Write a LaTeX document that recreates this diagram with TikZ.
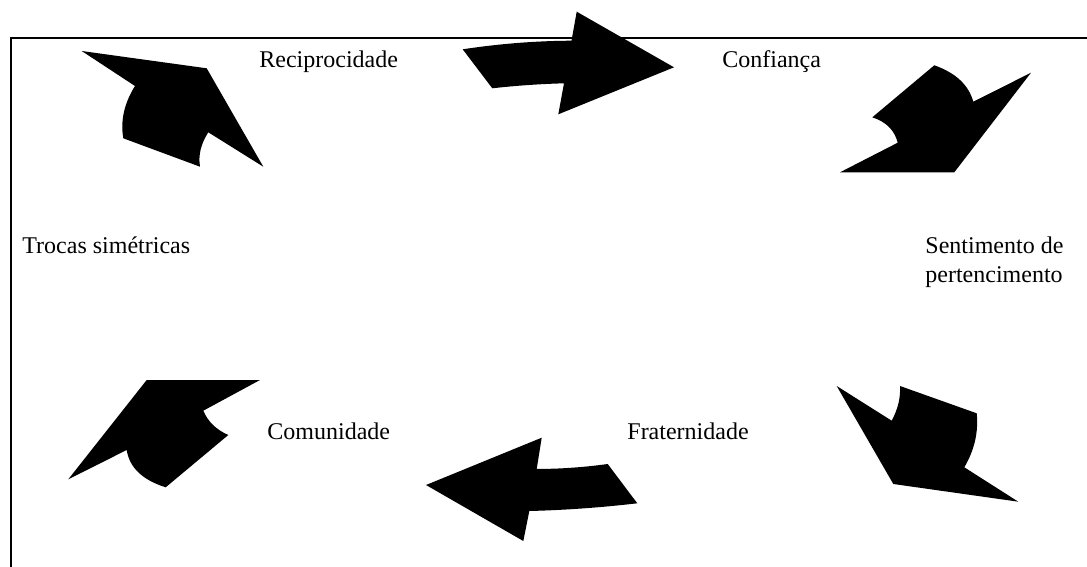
\documentclass[tikz,border=0pt]{standalone}
\usepackage{fontspec}
\setmainfont{Liberation Serif}
\begin{document}
\begin{tikzpicture}[x=0.5pt,y=-0.5pt,
  blockarrow/.style={fill=black,draw=none},
  frameline/.style={line width=1pt,black},
  label/.style={inner sep=0pt,anchor=base west,font=\fontsize{12pt}{14.5pt}\selectfont}]
\useasboundingbox (0,0) rectangle (1087,567);

% open frame: top and left rules
\coordinate (ftr) at (1087,38.5);
\coordinate (ftl) at (11,38.5);
\coordinate (fbl) at (11,567);
\draw[frameline] (ftr) -- (ftl) -- (fbl);

% labels of the cycle
\node[label] (recip) at (259,68) {Reciprocidade};
\node[label] (conf) at (722,68) {Confiança};
\node[label] (trocas) at (22,253) {Trocas simétricas};
% two-line label: base anchor sits on its last line
\node[label,align=left] (sent) at (925,282) {Sentimento de\\pertencimento};
\node[label] (comun) at (267,439) {Comunidade};
\node[label] (frat) at (627,439) {Fraternidade};

% curved block arrows, clockwise
% Trocas -> Reciprocidade
\fill[blockarrow] (81.7,51) -- (206.7,68.3) -- (263.3,166.7) -- (208.3,132.3)
  .. controls (200.9,143.8) and (198.1,155.2) .. (200,166.7)
  -- (123.3,138.3)
  .. controls (120.3,120.6) and (124.2,103.2) .. (135,86) -- cycle;
% Reciprocidade -> Confianca
\fill[blockarrow] (462.7,49.3)
  .. controls (499,43.8) and (535.2,40.9) .. (571.5,40.7)
  -- (576.7,11.7) -- (674,67.3) -- (558.3,114.3) -- (564,83.3)
  .. controls (540,84) and (516.1,85.6) .. (492.3,88.3) -- cycle;
% Confianca -> Sentimento de pertencimento
\fill[blockarrow] (934.3,65.3)
  .. controls (955.6,72.8) and (968.6,84.9) .. (973.3,101.7)
  -- (1031,72.7) -- (954.3,172.3) -- (840,172.3) -- (897.7,142.7)
  .. controls (894.6,130.2) and (886.1,121.8) .. (872.3,117.3) -- cycle;
% Sentimento de pertencimento -> Fraternidade
\fill[blockarrow] (836.7,386) -- (891.7,420.7)
  .. controls (898,408.9) and (900.7,397.3) .. (900,386)
  -- (976.7,413.3)
  .. controls (978.6,432.2) and (974.4,450.2) .. (964.3,467.3)
  -- (1018.3,501.7) -- (893.3,484) -- cycle;
% Fraternidade -> Comunidade
\fill[blockarrow] (426,485) -- (541.7,437.7) -- (536.7,469)
  .. controls (560.4,468.9) and (584,467.3) .. (607.7,464)
  -- (637.3,503.3)
  .. controls (601.3,507.5) and (565.3,510.1) .. (529.3,511)
  -- (523.3,541) -- cycle;
% Comunidade -> Trocas
\fill[blockarrow] (146.7,380) -- (260,380) -- (203.3,410.7)
  .. controls (207.9,421.6) and (216.2,429.7) .. (228.3,435)
  -- (165.7,487.3)
  .. controls (142.4,480) and (129.4,467.5) .. (126.7,450)
  -- (68.3,479.3) -- cycle;
\end{tikzpicture}
\end{document}
